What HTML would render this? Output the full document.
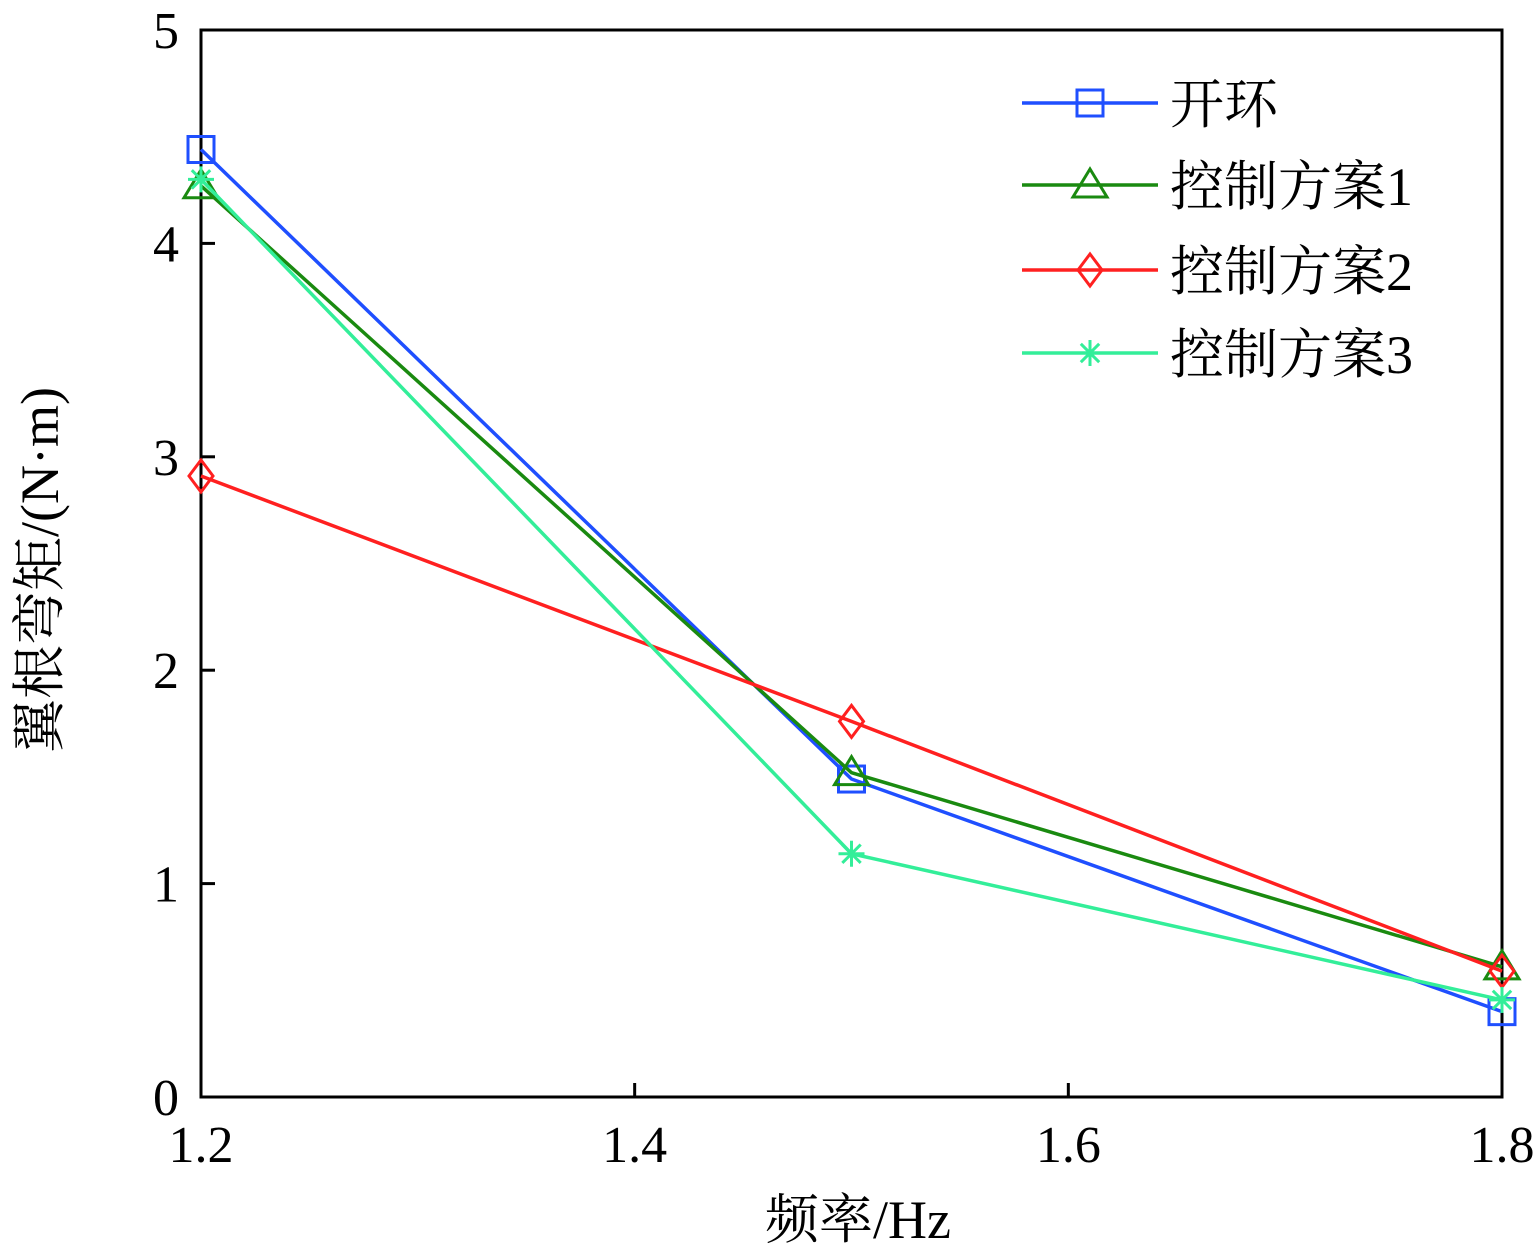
<!DOCTYPE html>
<html><head><meta charset="utf-8"><style>
html,body{margin:0;padding:0;background:#fff;}
svg{display:block;font-family:"Liberation Serif","Noto Serif CJK SC",serif;}
</style></head><body>
<svg id="chart" width="1539" height="1259" viewBox="0 0 1539 1259"></svg>
<script>
const categories=[1.2,1.5,1.8];
const seriesNames=["开环","控制方案1","控制方案2","控制方案3"];
const seriesOpen=[4.44,1.49,0.40];
const seriesCtrl1=[4.27,1.52,0.61];
const seriesCtrl2=[2.91,1.76,0.59];
const seriesCtrl3=[4.30,1.14,0.455];
const xTicks=[1.2,1.4,1.6,1.8];
const xTickLabels=["1.2","1.4","1.6","1.8"];
const yTicks=[0,1,2,3,4,5];
const yTickLabels=["0","1","2","3","4","5"];

const L=201,R=1502,T=30,B=1097;
const xs=v=>L+(v-1.2)/(0.6)*(R-L);
const ys=v=>B-v/5*(B-T);
const NS="http://www.w3.org/2000/svg";
const svg=document.getElementById('chart');
function mk(tag,attrs,parent){const e=document.createElementNS(NS,tag);for(const k in attrs)e.setAttribute(k,attrs[k]);(parent||svg).appendChild(e);return e;}

const frame=mk('rect',{x:L,y:T,width:R-L,height:B-T,fill:'none',stroke:'#000','stroke-width':3});



xTicks.forEach((t,i)=>{
  const x=xs(t);
  const tk=mk('line',{x1:x,x2:x,y1:B,y2:B-14,stroke:'#000','stroke-width':3});
  
  
  const tx=mk('text',{x:x,y:B+65,'font-size':52,'text-anchor':'middle'});
  tx.textContent=xTickLabels[i];
  
  
});
yTicks.forEach((t,i)=>{
  const y=ys(t);
  const tk=mk('line',{x1:L,x2:L+14,y1:y,y2:y,stroke:'#000','stroke-width':3});
  
  
  const tx=mk('text',{x:L-22,y:y+18,'font-size':52,'text-anchor':'end'});
  tx.textContent=yTickLabels[i];
  
  
});
const xt=mk('text',{x:858,y:1238,'font-size':54,'text-anchor':'middle'});
xt.textContent="频率/Hz";


const yt=mk('text',{x:0,y:0,'font-size':54,'text-anchor':'middle',transform:'translate(58,570) rotate(-90)'});
yt.textContent="翼根弯矩/(N·m)";



const colors=['#1f4fff','#1a8a10','#ff2020','#33ee99'];
const markers=['square','triangle','diamond','star'];
const allSeries=[seriesOpen,seriesCtrl1,seriesCtrl2,seriesCtrl3];
function marker(type,x,y,c,g){
  if(type==='square')mk('rect',{x:x-13,y:y-13,width:26,height:26,fill:'none',stroke:c,'stroke-width':3},g);
  else if(type==='triangle')mk('polygon',{points:`${x},${y-16} ${x-17},${y+12} ${x+17},${y+12}`,fill:'none',stroke:c,'stroke-width':3},g);
  else if(type==='diamond')mk('polygon',{points:`${x},${y-16} ${x+12},${y} ${x},${y+16} ${x-12},${y}`,fill:'none',stroke:c,'stroke-width':3},g);
  else{for(let a=0;a<4;a++){const r=a*Math.PI/4,dx=13*Math.cos(r),dy=13*Math.sin(r);mk('line',{x1:x-dx,y1:y-dy,x2:x+dx,y2:y+dy,stroke:c,'stroke-width':3},g);}}
}
allSeries.forEach((s,si)=>{
  const g=mk('g',{});
  
  
  const pts=s.map((v,i)=>xs(categories[i])+','+ys(v)).join(' ');
  const pl=mk('polyline',{points:pts,fill:'none',stroke:colors[si],'stroke-width':3.5},g);
  
  
  s.forEach((v,i)=>marker(markers[si],xs(categories[i]),ys(v),colors[si],g));
});
const legendY=[103,185,270,353];
const lg=mk('g',{});


seriesNames.forEach((n,i)=>{
  const g=mk('g',{},lg);
  
  
  mk('line',{x1:1022,x2:1158,y1:legendY[i],y2:legendY[i],stroke:colors[i],'stroke-width':3.5},g);
  marker(markers[i],1090,legendY[i],colors[i],g);
  const t=mk('text',{x:1170,y:legendY[i]+20,'font-size':54},g);
  t.textContent=n;
});
</script>
</body></html>
